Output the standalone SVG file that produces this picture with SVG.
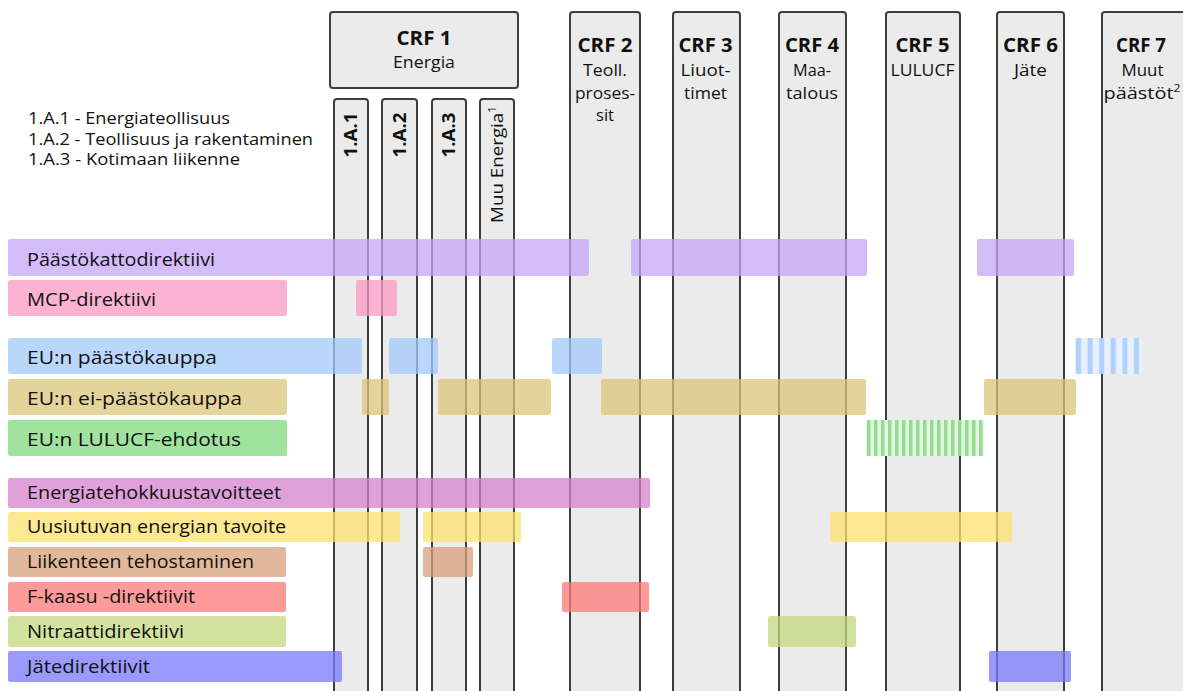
<svg xmlns="http://www.w3.org/2000/svg" width="1183" height="691" viewBox="0 0 1183 691">
<defs>
<style>
.col{fill:#ebebeb;stroke:#3d3d3d;stroke-width:2}
.t{font-family:"Open Sans","Noto Sans","Liberation Sans",sans-serif;fill:#111}
.hd{font-size:19px;font-weight:bold;text-anchor:middle}
.sub{font-size:16.5px;text-anchor:middle}
.vt{font-size:18px;font-weight:bold;text-anchor:middle}
.lg{font-size:16px}
.bl{font-size:18.5px}
.bar{opacity:0.75}
</style>
<pattern id="hBlue" patternUnits="userSpaceOnUse" x="1073" y="0" width="11.6" height="10">
<rect width="11.6" height="10" fill="#e7f0fd"/>
<rect x="3" width="5" height="10" fill="#b1d0fa"/>
</pattern>
<pattern id="hGreen" patternUnits="userSpaceOnUse" x="865" y="0" width="7" height="10">
<rect width="7" height="10" fill="#e2f6e2"/>
<rect x="2" width="3.5" height="10" fill="#93dd93"/>
</pattern>
</defs>
<rect width="1183" height="691" fill="#ffffff"/>

<g id="crf1">
<rect class="col" x="330" y="12" width="188" height="76" rx="3"/>
<text class="t hd" x="424" y="45" textLength="55" lengthAdjust="spacingAndGlyphs">CRF 1</text>
<text class="t sub" x="424" y="68" textLength="62" lengthAdjust="spacingAndGlyphs">Energia</text>
</g>
<g id="col-1A1">
<rect class="col" x="334" y="99" width="34" height="620" rx="3"/>
<text class="t vt" transform="translate(357,135) rotate(-90)" textLength="45" lengthAdjust="spacingAndGlyphs">1.A.1</text>
</g>
<g id="col-1A2">
<rect class="col" x="382" y="99" width="35" height="620" rx="3"/>
<text class="t vt" transform="translate(405.5,135) rotate(-90)" textLength="45" lengthAdjust="spacingAndGlyphs">1.A.2</text>
</g>
<g id="col-1A3">
<rect class="col" x="432" y="99" width="34" height="620" rx="3"/>
<text class="t vt" transform="translate(455,135) rotate(-90)" textLength="45" lengthAdjust="spacingAndGlyphs">1.A.3</text>
</g>
<g id="col-muu">
<rect class="col" x="480" y="99" width="34" height="620" rx="3"/>
<text class="t lg" font-size="16.5" transform="translate(503,223) rotate(-90)" textLength="117" lengthAdjust="spacingAndGlyphs">Muu Energia<tspan font-size="10" dy="-7">1</tspan></text>
</g>
<g id="crf2">
<rect class="col" x="570" y="12" width="70" height="710" rx="3"/>
<text class="t hd" x="605" y="52" textLength="55" lengthAdjust="spacingAndGlyphs">CRF 2</text>
<text class="t sub" x="605" y="76" textLength="44" lengthAdjust="spacingAndGlyphs">Teoll.</text>
<text class="t sub" x="605" y="99" textLength="60" lengthAdjust="spacingAndGlyphs">proses-</text>
<text class="t sub" x="605" y="121">sit</text>
</g>
<g id="crf3">
<rect class="col" x="673" y="12" width="67" height="710" rx="3"/>
<text class="t hd" x="705.5" y="52" textLength="54" lengthAdjust="spacingAndGlyphs">CRF 3</text>
<text class="t sub" x="705.5" y="76" textLength="50" lengthAdjust="spacingAndGlyphs">Liuot-</text>
<text class="t sub" x="705.5" y="99" textLength="43" lengthAdjust="spacingAndGlyphs">timet</text>
</g>
<g id="crf4">
<rect class="col" x="779" y="12" width="67" height="710" rx="3"/>
<text class="t hd" x="812" y="52" textLength="54" lengthAdjust="spacingAndGlyphs">CRF 4</text>
<text class="t sub" x="812" y="76" textLength="38" lengthAdjust="spacingAndGlyphs">Maa-</text>
<text class="t sub" x="812" y="99" textLength="52" lengthAdjust="spacingAndGlyphs">talous</text>
</g>
<g id="crf5">
<rect class="col" x="886" y="12" width="74" height="710" rx="3"/>
<text class="t hd" x="922.5" y="52" textLength="54" lengthAdjust="spacingAndGlyphs">CRF 5</text>
<text class="t sub" x="922.5" y="76" textLength="64" lengthAdjust="spacingAndGlyphs">LULUCF</text>
</g>
<g id="crf6">
<rect class="col" x="997" y="12" width="67" height="710" rx="3"/>
<text class="t hd" x="1030.5" y="52" textLength="55" lengthAdjust="spacingAndGlyphs">CRF 6</text>
<text class="t sub" x="1030.5" y="76" textLength="33" lengthAdjust="spacingAndGlyphs">Jäte</text>
</g>
<g id="crf7">
<rect class="col" x="1102" y="12" width="92" height="710" rx="3"/>
<text class="t hd" x="1141" y="52" textLength="50" lengthAdjust="spacingAndGlyphs">CRF 7</text>
<text class="t sub" x="1142.5" y="76" textLength="42" lengthAdjust="spacingAndGlyphs">Muut</text>
<text class="t sub" x="1142" y="99" textLength="77" lengthAdjust="spacingAndGlyphs">päästöt<tspan font-size="10" dy="-7">2</tspan></text>
</g>

<g id="legend">
<text class="t lg" x="28" y="124" textLength="202" lengthAdjust="spacingAndGlyphs">1.A.1 - Energiateollisuus</text>
<text class="t lg" x="28" y="145" textLength="285" lengthAdjust="spacingAndGlyphs">1.A.2 - Teollisuus ja rakentaminen</text>
<text class="t lg" x="28" y="165" textLength="212" lengthAdjust="spacingAndGlyphs">1.A.3 - Kotimaan liikenne</text>
</g>

<g id="row-paastokatto" fill="#c6a6f8">
<rect class="bar" x="8" y="239" width="581" height="37" rx="2"/>
<rect class="bar" x="631" y="239" width="236" height="37" rx="2"/>
<rect class="bar" x="977" y="239" width="97" height="37" rx="2"/>
<text class="t bl" x="27" y="266" textLength="188" lengthAdjust="spacingAndGlyphs">Päästökattodirektiivi</text>
</g>
<g id="row-mcp" fill="#fa9ac2">
<rect class="bar" x="8" y="280" width="279" height="36" rx="2"/>
<rect class="bar" x="356" y="280" width="41" height="36" rx="2"/>
<text class="t bl" x="27" y="306" textLength="129" lengthAdjust="spacingAndGlyphs">MCP-direktiivi</text>
</g>
<g id="row-ets" fill="#a2c8fa">
<rect class="bar" x="8" y="338" width="354" height="36" rx="2"/>
<rect class="bar" x="389" y="338" width="49" height="36" rx="2"/>
<rect class="bar" x="552" y="338" width="50" height="36" rx="2"/>
<rect x="1075" y="338" width="68" height="36" rx="2" fill="url(#hBlue)"/>
<text class="t bl" x="27" y="364" textLength="190" lengthAdjust="spacingAndGlyphs">EU:n päästökauppa</text>
</g>
<g id="row-nonets" fill="#dbc67b">
<rect class="bar" x="8" y="379" width="279" height="36" rx="2"/>
<rect class="bar" x="362" y="379" width="27" height="36" rx="2"/>
<rect class="bar" x="438" y="379" width="113" height="36" rx="2"/>
<rect class="bar" x="601" y="379" width="265" height="36" rx="2"/>
<rect class="bar" x="984" y="379" width="92" height="36" rx="2"/>
<text class="t bl" x="27" y="405" textLength="215" lengthAdjust="spacingAndGlyphs">EU:n ei-päästökauppa</text>
</g>
<g id="row-lulucf" fill="#7fda7f">
<rect class="bar" x="8" y="420" width="279" height="36" rx="2"/>
<rect x="866" y="420" width="118" height="36" rx="2" fill="url(#hGreen)"/>
<text class="t bl" x="27" y="446" textLength="214" lengthAdjust="spacingAndGlyphs">EU:n LULUCF-ehdotus</text>
</g>
<g id="row-energiatehokkuus" fill="#d680ce">
<rect class="bar" x="8" y="478" width="642" height="30" rx="2"/>
<text class="t bl" x="27" y="499" textLength="254" lengthAdjust="spacingAndGlyphs">Energiatehokkuustavoitteet</text>
</g>
<g id="row-uusiutuva" fill="#fee26f">
<rect class="bar" x="8" y="512" width="392" height="30" rx="2"/>
<rect class="bar" x="423" y="512" width="98" height="30" rx="2"/>
<rect class="bar" x="830" y="512" width="182" height="30" rx="2"/>
<text class="t bl" x="27" y="533" textLength="259" lengthAdjust="spacingAndGlyphs">Uusiutuvan energian tavoite</text>
</g>
<g id="row-liikenne" fill="#d8a07b">
<rect class="bar" x="8" y="547" width="278" height="30" rx="2"/>
<rect class="bar" x="423" y="547" width="50" height="30" rx="2"/>
<text class="t bl" x="27" y="568" textLength="227" lengthAdjust="spacingAndGlyphs">Liikenteen tehostaminen</text>
</g>
<g id="row-fkaasu" fill="#fc7878">
<rect class="bar" x="8" y="582" width="278" height="30" rx="2"/>
<rect class="bar" x="562" y="582" width="87" height="30" rx="2"/>
<text class="t bl" x="27" y="603" textLength="168" lengthAdjust="spacingAndGlyphs">F-kaasu -direktiivit</text>
</g>
<g id="row-nitraatti" fill="#c4d87e">
<rect class="bar" x="8" y="616" width="278" height="31" rx="2"/>
<rect class="bar" x="768" y="616" width="88" height="31" rx="2"/>
<text class="t bl" x="27" y="638" textLength="157" lengthAdjust="spacingAndGlyphs">Nitraattidirektiivi</text>
</g>
<g id="row-jate" fill="#7878fb">
<rect class="bar" x="8" y="651" width="334" height="31" rx="2"/>
<rect class="bar" x="989" y="651" width="82" height="31" rx="2"/>
<text class="t bl" x="27" y="673" textLength="123" lengthAdjust="spacingAndGlyphs">Jätedirektiivit</text>
</g>
</svg>
